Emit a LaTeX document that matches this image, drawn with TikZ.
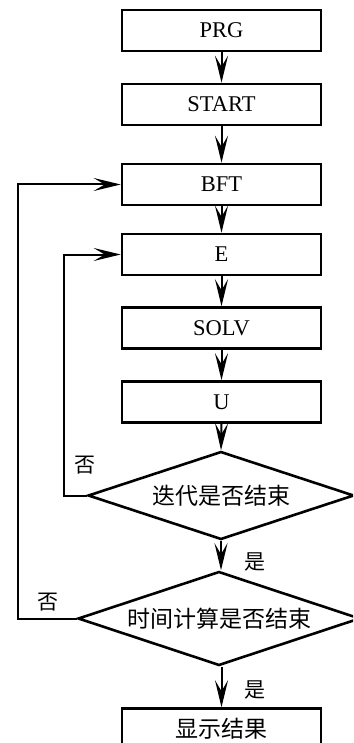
\documentclass[tikz,border=0pt]{standalone}
\usepackage{fontspec}
\setmainfont{Liberation Serif}
\newfontfamily\cjk{Noto Sans CJK SC}
\usetikzlibrary{shapes.geometric,arrows.meta}
\begin{document}
\begin{tikzpicture}[x=1pt,y=-1pt,
  box/.style={draw,line width=2.6pt,rectangle,minimum width=199pt,minimum height=41pt,inner sep=0pt,
    font=\fontsize{22.5}{26}\selectfont},
  dia/.style={draw,line width=2.6pt,diamond,aspect=3,inner sep=0pt,
    font=\cjk\fontsize{23}{26}\selectfont},
  lbl/.style={inner sep=0pt,font=\cjk\fontsize{21}{24}\selectfont},
  conn/.style={line width=2pt,-{Stealth[length=27pt,width=13pt,inset=11pt]}}]
\useasboundingbox (0,0) rectangle (353,743);
\clip (0,0) rectangle (353,743);
\node[box] (prg) at (221.5,30.5) {PRG};
\node[box] (start) at (221.5,104.5) {START};
\node[box] (bft) at (221.5,184.5) {BFT};
\node[box] (e) at (221.5,254.5) {E};
\node[box] (solv) at (221.5,328) {SOLV};
\node[box] (u) at (221.5,402) {U};
\node[dia,minimum width=266pt,minimum height=88pt] (d1) at (221,495.5) {迭代是否结束};
\node[dia,minimum width=282pt,minimum height=94pt] (d2) at (219,618.5) {时间计算是否结束};
\node[box,font=\cjk\fontsize{23}{26}\selectfont] (res) at (221.5,729) {显示结果};
\coordinate (c1) at (64,495.5);
\coordinate (c2) at (18,618.5);
\draw[conn] (prg) -- (start);
\draw[conn] (start) -- (bft);
\draw[conn] (bft) -- (e);
\draw[conn] (e) -- (solv);
\draw[conn] (solv) -- (u);
\draw[conn] (u.south) -- (d1.north);
\draw[conn] (d1.south) -- (d2.north -| d1.south);
\draw[conn] (d2.south -| res.north) -- (res.north);
\draw[conn] (d1.west) -- (c1) |- (e.west);
\draw[conn] (d2.west) -- (c2) |- (bft.west);
\node[lbl] (n1) at (85,465) {否};
\node[lbl] (n2) at (48,602) {否};
\node[lbl] (y1) at (255,562) {是};
\node[lbl] (y2) at (255,690) {是};
\end{tikzpicture}
\end{document}
